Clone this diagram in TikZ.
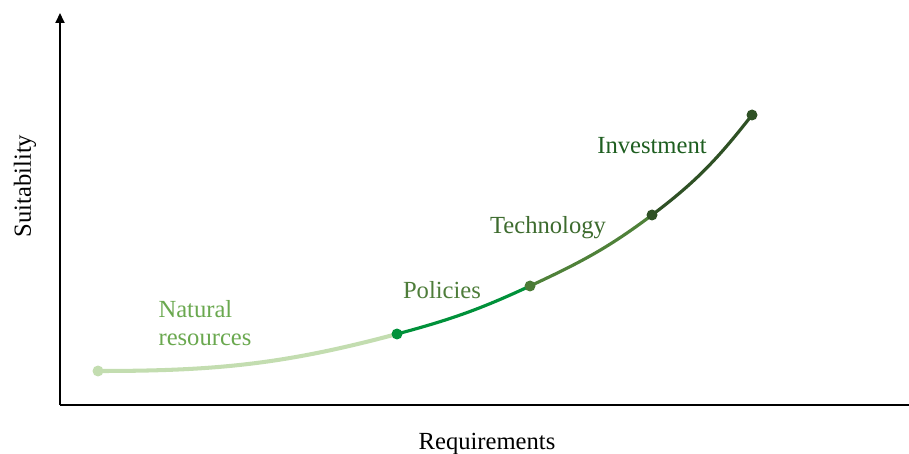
\documentclass[tikz,border=0pt]{standalone}
\usepackage{fontspec}
\setmainfont{Liberation Serif}
\usetikzlibrary{arrows.meta}
\definecolor{nrgreen}{HTML}{C3DDB0}
\definecolor{nrtext}{HTML}{6AA84F}
\definecolor{polgreen}{HTML}{00913A}
\definecolor{poltext}{HTML}{4E7D3A}
\definecolor{techgreen}{HTML}{4F8139}
\definecolor{techtext}{HTML}{3D6B2E}
\definecolor{invgreen}{HTML}{2F5125}
\definecolor{invtext}{HTML}{1E5E20}
\begin{document}
\begin{tikzpicture}[x=0.02cm,y=0.02cm,>={Triangle[length=0.2cm,width=0.18cm]},
	font=\fontsize{14}{16}\selectfont,
	axis/.style={line width=1.1pt,black},
	seg/.style={line width=1.8pt},
	dot/.style={circle,fill=#1,inner sep=0pt,minimum size=0.22cm}]
				\useasboundingbox (0,0) rectangle (909,453);
				% axes
				\coordinate (O) at (60,48);
				\coordinate (ytop) at (60,440);
				\coordinate (xend) at (909,48);
				\draw[axis,->] (O) -- (ytop);
				\draw[axis] (O) -- (xend);
				\node[rotate=90] (ylab) at (25,267) {Suitability};
				\node (xlab) at (487,9) {Requirements};
				% stages along the curve
				\coordinate (p0) at (98,82);
				\coordinate (p1) at (397,119);
				\coordinate (p2) at (530,167);
				\coordinate (p3) at (652,238);
				\coordinate (p4) at (752,338);
				\draw[seg,nrgreen,line width=2.3pt] (p0) to[out=0,in=195] (p1);
				\draw[seg,polgreen] (p1) to[out=15,in=205] (p2);
				\draw[seg,techgreen] (p2) to[out=25,in=217] (p3);
				\draw[seg,invgreen] (p3) to[out=37,in=232] (p4);
				\node[dot=nrgreen] (d0) at (p0) {};
				\node[dot=polgreen] (d1) at (p1) {};
				\node[dot=techgreen!95!black] (d2) at (p2) {};
				\node[dot=invgreen] (d3) at (p3) {};
				\node[dot=invgreen] (d4) at (p4) {};
				% labels
				\node[nrtext,align=left] (nr) at (205,130) {Natural\\resources};
				\node[poltext] (pol) at (442,163) {Policies};
				\node[techtext] (tech) at (548,225) {Technology};
				\node[invtext] (inv) at (652,307) {Investment};
			\end{tikzpicture}
\end{document}
